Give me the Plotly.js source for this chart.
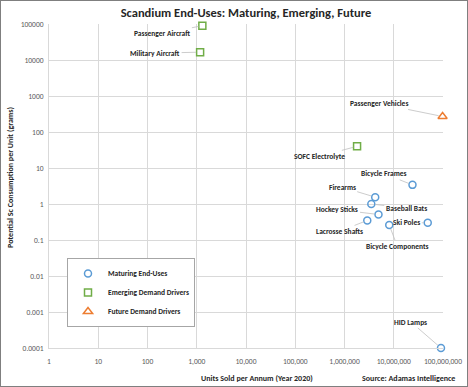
<!DOCTYPE html>
<html>
<head>
<meta charset="utf-8">
<script src="https://cdn.plot.ly/plotly-3.0.1.min.js"></script>
<style>
  html, body { margin: 0; padding: 0; background: #fff; }
  #wrap { position: relative; width: 468px; height: 387px; }
  #chart { width: 468px; height: 387px; }
  #frame { position: absolute; left: 0; top: 0; width: 468px; height: 387px; box-sizing: border-box; border: 1px solid #7f7f7f; pointer-events: none; }
</style>
</head>
<body>
<div id="wrap"><div id="chart"></div><div id="frame"></div></div>
<script>
// ---- Data ----
const maturingNames = ['Bicycle Frames', 'Firearms', 'Baseball Bats', 'Hockey Sticks', 'Lacrosse Shafts', 'Bicycle Components', 'Ski Poles', 'HID Lamps'];
const maturingUnits = [24000000, 4200000, 3500000, 4900000, 2900000, 8100000, 49000000, 91000000];
const maturingGrams = [3.4, 1.55, 1.0, 0.51, 0.35, 0.26, 0.30, 0.0001];

const emergingNames = ['Passenger Aircraft', 'Military Aircraft', 'SOFC Electrolyte'];
const emergingUnits = [1300, 1170, 1800000];
const emergingGrams = [90000, 16500, 40];

const futureNames = ['Passenger Vehicles'];
const futureUnits = [98000000];
const futureGrams = [270];

const seriesNames = ['Maturing End-Uses', 'Emerging Demand Drivers', 'Future Demand Drivers'];

const xTickVals = [1, 10, 100, 1000, 10000, 100000, 1000000, 10000000, 100000000];
const xTickText = ['1', '10', '100', '1,000', '10,000', '100,000', '1,000,000', '10,000,000', '100,000,000'];
const yTickVals = [0.0001, 0.001, 0.01, 0.1, 1, 10, 100, 1000, 10000, 100000];
const yTickText = ['0.0001', '0.001', '0.01', '0.1', '1', '10', '100', '1000', '10000', '100000'];

// ---- Label placement (pixel offsets of label centre from its point) ----
const labelOffsets = {
  'Passenger Aircraft': [-40, 8],
  'Military Aircraft': [-45, 1],
  'SOFC Electrolyte': [-38, 10],
  'Passenger Vehicles': [-64, -13],
  'Bicycle Frames': [-28, -11],
  'Firearms': [-33, -10],
  'Hockey Sticks': [-41, -5],
  'Baseball Bats': [35, 4],
  'Lacrosse Shafts': [-28, 11],
  'Ski Poles': [-21, 0],
  'Bicycle Components': [8, 21],
  'HID Lamps': [-30, -26]
};

const FONT = 'Carlito, Lato, "Liberation Sans", sans-serif';

const traces = [
  { x: maturingUnits, y: maturingGrams, text: maturingNames, name: seriesNames[0], mode: 'markers', type: 'scatter', cliponaxis: false,
    marker: { symbol: 'circle-open', size: 7, color: '#5b9bd5', line: { width: 1.5, color: '#5b9bd5' } } },
  { x: emergingUnits, y: emergingGrams, text: emergingNames, name: seriesNames[1], mode: 'markers', type: 'scatter', cliponaxis: false,
    marker: { symbol: 'square-open', size: 7, color: '#70ad47', line: { width: 1.5, color: '#70ad47' } } },
  { x: futureUnits, y: futureGrams, text: futureNames, name: seriesNames[2], mode: 'markers', type: 'scatter', cliponaxis: false,
    marker: { symbol: 'triangle-up-open', size: 8, color: '#ed7d31', line: { width: 1.5, color: '#ed7d31' } } }
];

const annotations = [];
function addLabels(names, xs, ys) {
  names.forEach((n, i) => {
    const off = labelOffsets[n] || [0, -15];
    annotations.push({
      x: Math.log10(xs[i]), y: Math.log10(ys[i]), xref: 'x', yref: 'y',
      text: n, showarrow: true, arrowhead: 0, arrowwidth: 0.8, arrowcolor: '#bfbfbf', standoff: 4,
      ax: off[0], ay: off[1],
      font: { family: FONT, size: 7.5, color: '#262626', weight: 'bold' }
    });
  });
}
addLabels(maturingNames, maturingUnits, maturingGrams);
addLabels(emergingNames, emergingUnits, emergingGrams);
addLabels(futureNames, futureUnits, futureGrams);

annotations.push({
  xref: 'paper', yref: 'paper', x: (257 - 49) / 394, y: (348 - 378) / 324, xanchor: 'center', yanchor: 'middle',
  text: 'Units Sold per Annum (Year 2020)', showarrow: false,
  font: { family: FONT, size: 8, color: '#262626', weight: 'bold' }
});
annotations.push({
  xref: 'paper', yref: 'paper', x: (457 - 49) / 394, y: (348 - 378) / 324, xanchor: 'right', yanchor: 'middle',
  text: 'Source: Adamas Intelligence', showarrow: false,
  font: { family: FONT, size: 8, color: '#262626', weight: 'bold' }
});
annotations.push({
  xref: 'paper', yref: 'paper', x: (10 - 49) / 394, y: (348 - 178) / 324, xanchor: 'center', yanchor: 'middle',
  text: 'Potential Sc Consumption per Unit (grams)', showarrow: false, textangle: -90,
  font: { family: FONT, size: 8, color: '#262626', weight: 'bold' }
});

const layout = {
  width: 468, height: 387,
  margin: { l: 49, r: 25, t: 24, b: 39 },
  paper_bgcolor: '#ffffff', plot_bgcolor: '#ffffff',
  font: { family: FONT, color: '#595959' },
  title: { text: 'Scandium End-Uses: Maturing, Emerging, Future', x: 0.5, xref: 'paper', y: 1 - 13 / 387, yanchor: 'middle',
    font: { family: FONT, size: 12.5, color: '#262626', weight: 'bold' } },
  xaxis: {
    type: 'log', range: [0, 8], tickvals: xTickVals, ticktext: xTickText,
    showgrid: true, gridcolor: '#d9d9d9', gridwidth: 1, zeroline: false,
    showline: true, linecolor: '#d9d9d9', mirror: false, ticks: '', ticklabelstandoff: 6,
    tickfont: { family: FONT, size: 7.5, color: '#595959' }
  },
  yaxis: {
    type: 'log', range: [-4, 5], tickvals: yTickVals, ticktext: yTickText,
    showgrid: true, gridcolor: '#d9d9d9', gridwidth: 1, zeroline: false,
    showline: true, linecolor: '#d9d9d9', ticks: '', ticklabelstandoff: 3,
    tickfont: { family: FONT, size: 7.5, color: '#595959' }
  },
  showlegend: true,
  legend: {
    x: (67 - 49) / 394, y: (348 - 258) / 324, xanchor: 'left', yanchor: 'top',
    bgcolor: '#ffffff', bordercolor: '#a6a6a6', borderwidth: 1,
    font: { family: FONT, size: 7.5, color: '#262626', weight: 'bold' },
    tracegroupgap: 0
  },
  annotations: annotations
};

Plotly.newPlot('chart', traces, layout, { staticPlot: true, displayModeBar: false });
</script>
</body>
</html>
